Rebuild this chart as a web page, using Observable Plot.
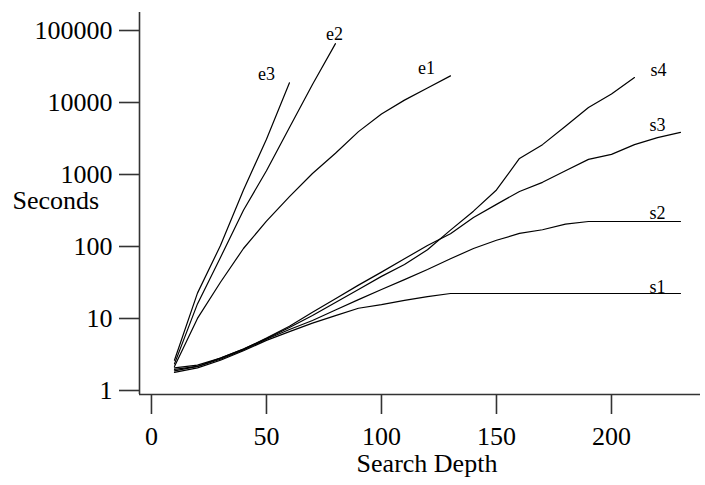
<!DOCTYPE html>
<html><head><meta charset="utf-8">
<script src="https://cdn.jsdelivr.net/npm/d3@7"></script>
<script src="https://cdn.jsdelivr.net/npm/@observablehq/plot@0.6"></script>
<style>body{margin:0;background:#fff} #chart svg{display:block}</style>
</head><body><div id="chart"></div>
<script>
const depth = [10,20,30,40,50,60,70,80,90,100,110,120,130,140,150,160,170,180,190,200,210,220,230];
const e1 = [2.3,10.7,34,100,240,525,1100,2100,4200,7400,11500,17000,25000];
const e2 = [2.5,17,75,340,1200,4800,19000,70000];
const e3 = [2.8,24,110,650,3300,20000];
const s1 = [1.9,2.2,2.8,3.8,5.3,7.0,9.2,11.7,14.8,16.6,19,21.5,23.7,23.7,23.7,23.7,23.7,23.7,23.7,23.7,23.7,23.7,23.7];
const s2 = [2.0,2.3,2.9,3.9,5.5,7.5,10,14,19.5,27,37,51,72,100,130,162,182,218,237,237,237,237,237];
const s3 = [2.1,2.3,3.0,4.0,5.7,8.3,13,20,31,47,72,110,160,270,410,620,830,1200,1730,2030,2770,3470,4100];
const s4 = [2.2,2.4,3.0,4.0,5.6,8.0,11.7,17.8,27,41,60,96,180,330,650,1780,2770,5000,9100,14000,23700];
const seriesNames = ["e1","e2","e3","s1","s2","s3","s4"];
const seriesValues = [e1,e2,e3,s1,s2,s3,s4];
const yTicks = [1,10,100,1000,10000,100000];
const xTicks = [0,50,100,150,200];

const rows = [];
seriesNames.forEach((name, k) => seriesValues[k].forEach((v, i) => rows.push({series: name, depth: depth[i], seconds: v})));

const font = "'Liberation Serif', 'Times New Roman', serif";
const xDomain = [-5.2, 238.7];
const yDomain = [0.938, 189600];
const axisColor = "#333";
const labelOffsets = {e3: [-23, -9], e2: [-1, -9], e1: [-24, -8], s4: [24, -7], s3: [-23, -7], s2: [-23, -8], s1: [-23, -6]};
const labelMarks = seriesNames.map(name => Plot.text(rows.filter(d => d.series === name).slice(-1), {
  x: "depth", y: "seconds", text: "series", dx: labelOffsets[name][0], dy: labelOffsets[name][1],
  fontSize: 18, fill: "#000"
}));

const chart = Plot.plot({
  width: 705, height: 485,
  marginLeft: 139, marginRight: 5, marginTop: 12, marginBottom: 91,
  style: {fontFamily: font, background: "#fff", color: "#000", fontSize: "26px"},
  x: {domain: xDomain},
  y: {type: "log", domain: yDomain},
  marks: [
    Plot.ruleX([xDomain[0]], {stroke: axisColor, strokeWidth: 1.6}),
    Plot.ruleY([yDomain[0]], {stroke: axisColor, strokeWidth: 1.6}),
    Plot.axisY({ticks: yTicks, tickSize: 20, tickPadding: 7, tickFormat: d => String(d), label: null, stroke: axisColor, strokeWidth: 1.6, fill: "#000", fontSize: 26, dy: -2}),
    Plot.axisX({ticks: xTicks, tickSize: 20, tickPadding: 12, tickFormat: d => String(d), label: null, stroke: axisColor, strokeWidth: 1.6, fill: "#000", fontSize: 26}),
    Plot.line(rows, {x: "depth", y: "seconds", z: "series", stroke: "#000", strokeWidth: 1.2}),
    ...labelMarks,
    Plot.text(["Seconds"], {frameAnchor: "left", textAnchor: "start", dx: -127, dy: -3, fontSize: 26, fill: "#000"}),
    Plot.text(["Search Depth"], {frameAnchor: "bottom", dx: 7, dy: 77, fontSize: 26, fill: "#000"})
  ]
});
document.getElementById("chart").append(chart);
</script>
</body></html>
